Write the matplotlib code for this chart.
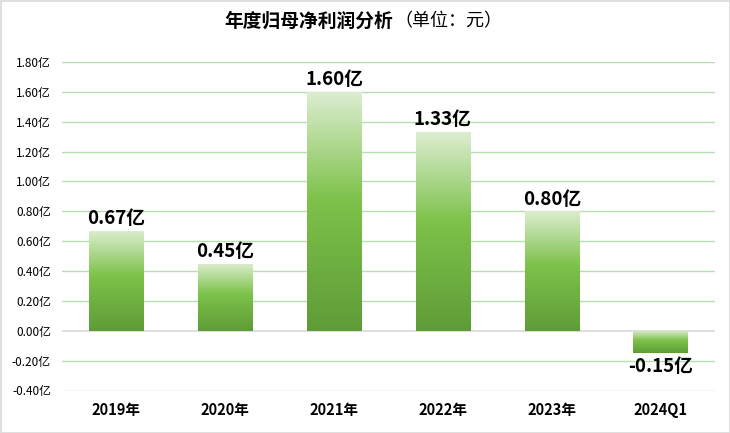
import matplotlib
matplotlib.use("Agg")
import matplotlib.pyplot as plt
import numpy as np
from matplotlib.colors import LinearSegmentedColormap
from matplotlib.patches import Rectangle

plt.rcParams['font.family'] = ['Noto Sans CJK SC', 'DejaVu Sans']

categories = ["2019年", "2020年", "2021年", "2022年", "2023年", "2024Q1"]
values = [0.67, 0.45, 1.60, 1.33, 0.80, -0.15]
yticks = [-0.4, -0.2, 0.0, 0.2, 0.4, 0.6, 0.8, 1.0, 1.2, 1.4, 1.6, 1.8]
ytick_labels = [f"{v:.2f}亿" for v in yticks]
data_labels = [f"{v:.2f}亿" for v in values]

fig = plt.figure(figsize=(7.3, 4.33), dpi=100)
ax = fig.add_axes([62/730, (433-390.5)/433, (715-62)/730, (390.5-62)/433])

# border around figure
fig.patches.append(Rectangle((0.5/730, 0.5/433), 1-1/730, 1-1/433, transform=fig.transFigure,
                             fill=False, edgecolor="#d9d9d9", linewidth=1.2))

x = np.arange(len(categories))
bars = ax.bar(x, values, width=0.5, color="none", edgecolor="none", zorder=3)

cmap = LinearSegmentedColormap.from_list("g", [(0.0, "#dcedd0"), (0.45, "#7dc24a"), (1.0, "#5f9c37")])
grad = np.linspace(0, 1, 256).reshape(-1, 1)
for b in bars:
    x0 = b.get_x(); w = b.get_width()
    y0 = b.get_y(); h = b.get_height()
    top = max(y0, y0 + h); bot = min(y0, y0 + h)
    im = ax.imshow(grad, cmap=cmap, aspect="auto", extent=(x0, x0 + w, bot, top),
                   origin="upper", zorder=3, interpolation="bilinear")
    im.set_clip_path(b)

ax.set_xlim(-0.5, len(categories) - 0.5)
ax.set_ylim(-0.4, 1.8)
ax.set_yticks(yticks)
ax.set_yticklabels(ytick_labels, fontsize=8.5, color="#000000")
ax.set_xticks(x)
ax.set_xticklabels(categories, fontsize=10.5, fontweight="bold")
ax.tick_params(axis="both", length=0)
ax.tick_params(axis="y", pad=8)
ax.tick_params(axis="x", pad=8)

for v in yticks:
    if abs(v) < 1e-9:
        ax.axhline(v, color="#d9d9d9", linewidth=1.2, zorder=2)
    else:
        ax.axhline(v, color="#b5dfb0", linewidth=1.0, zorder=1)

for s in ax.spines.values():
    s.set_visible(False)

for xi, v, lab in zip(x, values, data_labels):
    if v >= 0:
        ax.annotate(lab, (xi, v), xytext=(0, 2), textcoords="offset points",
                    ha="center", va="bottom", fontsize=13.5, fontweight="bold", zorder=5)
    else:
        ax.annotate(lab, (xi, v), xytext=(0, -3), textcoords="offset points",
                    ha="center", va="top", fontsize=13.5, fontweight="bold", zorder=5)

fig.text(393/730, 1 - 21/433, "年度归母净利润分析", ha="right", va="center",
         fontsize=13.5, fontweight="bold")
fig.text(394/730, 1 - 21/433, "（单位：元）", ha="left", va="center", fontsize=13)

fig.savefig("out.png", dpi=100)
